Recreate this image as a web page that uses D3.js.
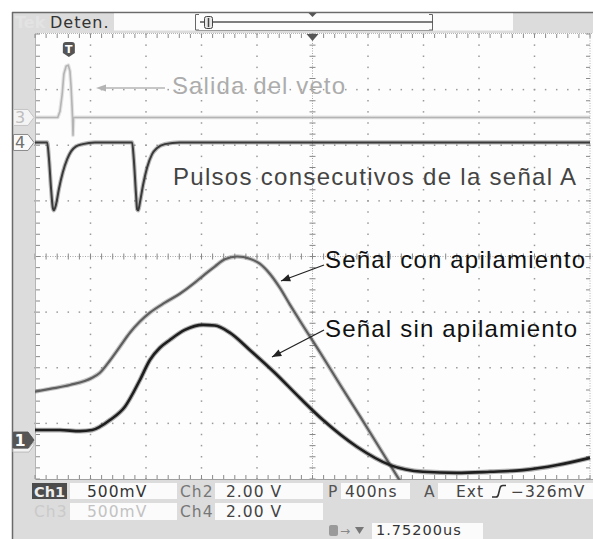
<!DOCTYPE html>
<html><head><meta charset="utf-8">
<script src="https://cdn.jsdelivr.net/npm/d3@7"></script>
<style>body{margin:0;background:#fff}svg{display:block}</style>
</head><body>
<svg id="c" width="593" height="539"></svg>
<script>
// Horizontal: divisions (400 ns/div, 10 div). Vertical: divisions from screen centre (8 div).
const conTime = [0,0.27,0.63,1.03,1.17,1.35,1.53,1.71,1.89,2.07,2.34,2.61,2.88,3.06,3.24,3.42,3.64,3.87,4.05,4.23,4.41,4.59,4.77,5.14,5.50,5.86,6.22,6.58];
const conVolt = [-2.43,-2.38,-2.31,-2.18,-2.09,-1.87,-1.62,-1.37,-1.17,-1.01,-0.83,-0.67,-0.47,-0.32,-0.18,-0.05,0.00,-0.04,-0.13,-0.31,-0.56,-0.86,-1.15,-1.73,-2.31,-2.88,-3.46,-4.04];
const sinTime = [0,0.45,0.81,1.03,1.17,1.35,1.62,1.89,2.07,2.25,2.43,2.70,3.03,3.24,3.51,3.87,4.32,4.77,5.19,5.80,6.40,6.99,7.60,8.20,8.79,9.41,10];
const sinVolt = [-3.12,-3.12,-3.14,-3.12,-3.06,-2.94,-2.70,-2.22,-1.86,-1.64,-1.50,-1.32,-1.23,-1.24,-1.37,-1.68,-2.09,-2.54,-2.94,-3.42,-3.75,-3.87,-3.89,-3.87,-3.84,-3.75,-3.62];
const ch4Time = [0,0.22,0.25,0.29,0.32,0.34,0.38,0.43,0.50,0.58,0.65,0.74,0.86,1.08,1.75,1.78,1.82,1.84,1.86,1.89,1.95,2.02,2.11,2.20,2.34,2.61,10];
const ch4Volt = [2.05,2.05,1.78,1.21,0.88,0.83,0.94,1.21,1.51,1.75,1.89,1.98,2.02,2.05,2.05,1.75,1.12,0.85,0.83,0.97,1.30,1.60,1.84,1.95,2.02,2.05,2.05];
const ch3Time = [0,0.41,0.45,0.49,0.52,0.56,0.60,0.63,0.65,0.67,0.676,0.685,0.694,10];
const ch3Volt = [2.50,2.50,2.61,2.92,3.28,3.42,3.44,3.33,3.05,2.65,2.50,2.18,2.50,2.50];
const channelMarkers = [{ch:"3", level:2.50}, {ch:"4", level:2.05}, {ch:"1", level:-3.30}];
const readoutRow1 = ["Ch1","500mV","Ch2","2.00 V","P","400ns","A","Ext","−326mV"];
const readoutRow2 = ["Ch3","500mV","Ch4","2.00 V"];
const triggerDelay = "1.75200us";

const W=593,H=539;
const svg=d3.select('#c');
const x=d3.scaleLinear().domain([0,10]).range([35,590]);
const y=d3.scaleLinear().domain([-4,4]).range([479,34]);

// background / frame
svg.append('rect').attr('width',W).attr('height',H).attr('fill','#fff');
svg.append('rect').attr('x',12).attr('y',12).attr('width',W-12).attr('height',H-12).attr('fill','#dcdcdc');
svg.append('rect').attr('x',35).attr('y',33).attr('width',W-35).attr('height',447).attr('fill','#fdfdfd');
svg.append('line').attr('x1',12).attr('x2',W).attr('y1',12.5).attr('y2',12.5).attr('stroke','#6a6a6a').attr('stroke-width',1.5);
svg.append('line').attr('x1',12.5).attr('x2',12.5).attr('y1',12).attr('y2',H).attr('stroke','#6a6a6a').attr('stroke-width',1.5);

// header
svg.append('text').attr('x',15).attr('y',28).text('Tek').attr('font-family','DejaVu Sans').attr('font-weight','bold').attr('font-size',16).attr('fill','#e3e3e3');
svg.append('text').attr('x',50).attr('y',28).text('Deten.').attr('font-family','DejaVu Sans').attr('font-size',16).attr('letter-spacing',1).attr('fill','#333');
svg.append('rect').attr('x',114).attr('y',13.5).attr('width',399).attr('height',17).attr('fill','#fcfcfc');
svg.append('path').attr('d','M199,14.5H195.5V30H199').attr('fill','none').attr('stroke','#666');
svg.append('path').attr('d','M429,14.5H432.5V30H429').attr('fill','none').attr('stroke','#666');
svg.append('line').attr('x1',196).attr('x2',433).attr('y1',30.5).attr('y2',30.5).attr('stroke','#9a9a9a');
svg.append('line').attr('x1',200).attr('x2',433).attr('y1',22).attr('y2',22).attr('stroke','#555').attr('stroke-width',1.6);
svg.append('rect').attr('x',204.5).attr('y',16.5).attr('width',8).attr('height',12).attr('rx',2).attr('fill','#e6e6e6').attr('stroke','#444');
svg.append('line').attr('x1',208.5).attr('x2',208.5).attr('y1',18).attr('y2',27).attr('stroke','#444').attr('stroke-width',1.5);
svg.append('path').attr('d',`M${x(5)-4},13 H${x(5)+4} L${x(5)},17 Z`).attr('fill','#555');

// grid
const grid=svg.append('g');
const minor=d3.range(0,50.5,1).map(i=>i*0.2);
const minorY=d3.range(0,40.5,1).map(i=>-4+i*0.2);
[-3,-2,-1,1,2,3].forEach(j=>{
  grid.selectAll(null).data(minor).enter().append('rect')
    .attr('x',d=>x(d)-0.75).attr('y',y(j)-0.75).attr('width',1.5).attr('height',1.5).attr('fill','#9a9a9a');
});
[1,2,3,4,6,7,8,9].forEach(i=>{
  grid.selectAll(null).data(minorY).enter().append('rect')
    .attr('x',x(i)-0.75).attr('y',d=>y(d)-0.75).attr('width',1.5).attr('height',1.5).attr('fill','#9a9a9a');
});
// centre crosshair
grid.append('line').attr('x1',x(0)).attr('x2',W).attr('y1',y(0)).attr('y2',y(0)).attr('stroke','#a8a8a8').attr('stroke-dasharray','1,1.5');
grid.append('line').attr('x1',x(5)).attr('x2',x(5)).attr('y1',33).attr('y2',480).attr('stroke','#a8a8a8').attr('stroke-dasharray','1,1.5');
grid.selectAll(null).data(minor).enter().append('line')
  .attr('x1',d=>x(d)).attr('x2',d=>x(d)).attr('y1',y(0)-3).attr('y2',y(0)+3).attr('stroke','#888');
grid.selectAll(null).data(minorY).enter().append('line')
  .attr('x1',x(5)-3).attr('x2',x(5)+3).attr('y1',d=>y(d)).attr('y2',d=>y(d)).attr('stroke','#888');
// border rulers
grid.append('line').attr('x1',35).attr('x2',W).attr('y1',33.5).attr('y2',33.5).attr('stroke','#b5b5b5').attr('stroke-dasharray','1,1');
grid.append('line').attr('x1',35).attr('x2',W).attr('y1',479.5).attr('y2',479.5).attr('stroke','#a0a0a0');
grid.append('line').attr('x1',35.5).attr('x2',35.5).attr('y1',33).attr('y2',480).attr('stroke','#b5b5b5');
grid.append('line').attr('x1',x(10)).attr('x2',x(10)).attr('y1',33).attr('y2',480).attr('stroke','#b5b5b5').attr('stroke-dasharray','1,1.5');
grid.selectAll(null).data(minor).enter().append('line')
  .attr('x1',d=>x(d)).attr('x2',d=>x(d)).attr('y1',34).attr('y2',38).attr('stroke','#8a8a8a');
grid.selectAll(null).data(minor).enter().append('line')
  .attr('x1',d=>x(d)).attr('x2',d=>x(d)).attr('y1',475).attr('y2',479).attr('stroke','#8a8a8a');
grid.selectAll(null).data(minorY).enter().append('line')
  .attr('x1',36).attr('x2',40).attr('y1',d=>y(d)).attr('y2',d=>y(d)).attr('stroke','#8a8a8a');
grid.selectAll(null).data(minorY).enter().append('line')
  .attr('x1',x(10)-4).attr('x2',x(10)).attr('y1',d=>y(d)).attr('y2',d=>y(d)).attr('stroke','#8a8a8a');

// traces
svg.append('clipPath').attr('id','clip').append('rect').attr('x',35).attr('y',33).attr('width',W-35).attr('height',447);
const tr=svg.append('g').attr('clip-path','url(#clip)');
const zip=(t,v)=>t.map((d,i)=>[d,v[i]]);
const smooth=d3.line().x(d=>x(d[0])).y(d=>y(d[1])).curve(d3.curveMonotoneX);
const straight=d3.line().x(d=>x(d[0])).y(d=>y(d[1])).curve(d3.curveLinear);
function trace(data, gen, color, w){
  tr.append('path').attr('d',gen(data)).attr('fill','none').attr('stroke',color).attr('stroke-opacity',0.35).attr('stroke-width',w+2.2).attr('stroke-linejoin','round');
  tr.append('path').attr('d',gen(data)).attr('fill','none').attr('stroke',color).attr('stroke-width',w).attr('stroke-linejoin','round');
}
trace(zip(ch3Time,ch3Volt), straight, '#b4b4b4', 1.6);
trace(zip(ch4Time,ch4Volt), smooth, '#3a3a3a', 2.0);
trace(zip(conTime,conVolt), smooth, '#5e5e5e', 2.2);
trace(zip(sinTime,sinVolt), smooth, '#1e1e1e', 2.6);

// top markers: trigger position and T
svg.append('path').attr('d',`M${x(5)-6},34 H${x(5)+6} L${x(5)},41 Z`).attr('fill','#555');
const tx=x(0.61);
svg.append('path').attr('d',`M${tx-6},45 Q${tx-6},42 ${tx-3},42 H${tx+3} Q${tx+6},42 ${tx+6},45 V53 L${tx},57 L${tx-6},53 Z`).attr('fill','#555');
svg.append('text').attr('x',tx).attr('y',53).attr('text-anchor','middle').text('T').attr('font-family','DejaVu Sans').attr('font-weight','bold').attr('font-size',11).attr('fill','#fff');

// channel markers
const mStyle={"3":{fill:'#f4f4f4',stroke:'#c4c4c4',text:'#bdbdbd'},"4":{fill:'#fafafa',stroke:'#8a8a8a',text:'#707070'},"1":{fill:'#565656',stroke:'#565656',text:'#ffffff'}};
channelMarkers.forEach(m=>{
  const cy=y(m.level), s=mStyle[m.ch];
  if(m.ch==='1'){
    svg.append('path').attr('d',`M13,${cy+8} L29,${cy+8} L34,${cy+2} L34,${cy+5} L29,${cy+12} L13,${cy+12} Z`).attr('fill','#f2f2f2').attr('stroke','#bbb');
  }
  svg.append('path').attr('d',`M13.5,${cy-8} H28 L34,${cy} L28,${cy+8} H13.5 Z`).attr('fill',s.fill).attr('stroke',s.stroke);
  svg.append('text').attr('x',20).attr('y',cy+6).attr('text-anchor','middle').text(m.ch)
    .attr('font-family','DejaVu Sans').attr('font-size',16).attr('font-weight',m.ch==='1'?'bold':'normal').attr('fill',s.text);
});

// annotations
const ann=svg.append('g').attr('font-family','Liberation Sans, Arial, sans-serif').attr('font-size',24);
ann.append('text').attr('x',172).attr('y',94).attr('textLength',173).attr('lengthAdjust','spacing').attr('fill','#acacac').text('Salida del veto');
ann.append('line').attr('x1',165).attr('x2',100).attr('y1',88).attr('y2',88).attr('stroke','#b4b4b4').attr('stroke-width',1.4);
ann.append('path').attr('d','M96,88 L106,84.5 L106,91.5 Z').attr('fill','#b4b4b4');
ann.append('text').attr('x',173).attr('y',185).attr('textLength',403).attr('lengthAdjust','spacing').attr('fill','#444').text('Pulsos consecutivos de la señal A');
ann.append('text').attr('x',325).attr('y',268).attr('textLength',260).attr('lengthAdjust','spacing').attr('fill','#111').text('Señal con apilamiento');
ann.append('text').attr('x',325).attr('y',337).attr('textLength',252).attr('lengthAdjust','spacing').attr('fill','#111').text('Señal sin apilamiento');
function arrow(x1,y1,x2,y2){
  ann.append('line').attr('x1',x1).attr('y1',y1).attr('x2',x2).attr('y2',y2).attr('stroke','#222').attr('stroke-width',1.3);
  const a=Math.atan2(y2-y1,x2-x1), L=10, sp=0.38;
  const p1=[x2-L*Math.cos(a-sp), y2-L*Math.sin(a-sp)], p2=[x2-L*Math.cos(a+sp), y2-L*Math.sin(a+sp)];
  ann.append('path').attr('d',`M${x2},${y2} L${p1[0]},${p1[1]} L${p2[0]},${p2[1]} Z`).attr('fill','#222');
}
arrow(324,265,281,281);
arrow(324,330,272,357);

// bottom readout
const rd=svg.append('g').attr('font-family','DejaVu Sans').attr('font-size',15.5).attr('letter-spacing',1);
const box=(x0,y0,w,h,f)=>rd.append('rect').attr('x',x0).attr('y',y0).attr('width',w).attr('height',h).attr('fill',f||'#fbfbfb');
box(32,483,35,16,'#4c4c4c'); box(70,483,107,16); box(215,483,108,16); box(341,483,69,16); box(438,483,155,16);
box(70,503,107,17); box(215,503,108,17);
box(372,523,111,16);
const t=(s,x0,y0,c,b)=>rd.append('text').attr('x',x0).attr('y',y0).text(s).attr('fill',c).attr('font-weight',b?'bold':'normal');
t(readoutRow1[0],34,497,'#eeeeee',true).attr('letter-spacing',0).attr('font-size',14.5);
t(readoutRow1[1],87,497,'#333');
t(readoutRow1[2],180,497,'#777');
t(readoutRow1[3],226,497,'#444');
t(readoutRow1[4],328,497,'#555');
t(readoutRow1[5],345,497,'#444');
t(readoutRow1[6],424,497,'#555');
t(readoutRow1[7],456,497,'#444');
rd.append('path').attr('d','M492,497 H496 Q498,497 498.5,494 L500,488 Q500.5,485.5 503,485.5 H506').attr('fill','none').attr('stroke','#333').attr('stroke-width',1.6);
t(readoutRow1[8],511,497,'#444');
t(readoutRow2[0],34,517,'#cacaca');
t(readoutRow2[1],87,517,'#c2c2c2');
t(readoutRow2[2],180,517,'#777');
t(readoutRow2[3],226,517,'#444');
// trigger delay row
rd.append('rect').attr('x',329).attr('y',525).attr('width',9).attr('height',11).attr('rx',2).attr('fill','#9a9a9a');
rd.append('text').attr('x',340).attr('y',535).text('→').attr('font-size',12).attr('fill','#888');
rd.append('path').attr('d','M355,527 H364 L359.5,534 Z').attr('fill','#777');
t(triggerDelay,376,535,'#333').attr('font-size',14.5);
</script>
</body></html>
